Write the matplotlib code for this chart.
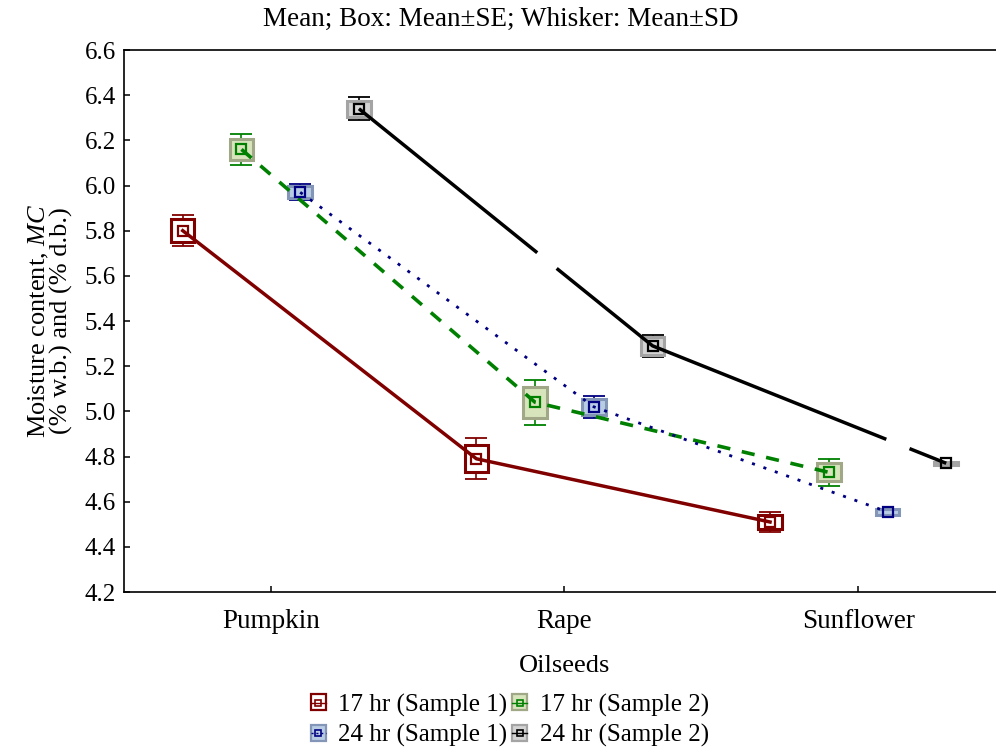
import matplotlib
matplotlib.use('Agg')
import matplotlib.pyplot as plt
import numpy as np
from matplotlib.patches import Rectangle
from matplotlib.lines import Line2D

plt.rcParams['font.family'] = 'serif'
plt.rcParams['font.serif'] = ['Liberation Serif', 'DejaVu Serif']
plt.rcParams['mathtext.fontset'] = 'custom'
plt.rcParams['mathtext.it'] = 'Liberation Serif:italic'
plt.rcParams['mathtext.rm'] = 'Liberation Serif'
plt.rcParams['lines.scale_dashes'] = False

# data
categories = ['Pumpkin', 'Rape', 'Sunflower']
labels = ['17 hr (Sample 1)', '17 hr (Sample 2)', '24 hr (Sample 1)', '24 hr (Sample 2)']

mean_17_s1 = [5.80, 4.79, 4.51]
se_17_s1 = [0.05, 0.06, 0.03]
sd_17_s1 = [0.07, 0.09, 0.045]

mean_17_s2 = [6.16, 5.04, 4.73]
se_17_s2 = [0.045, 0.07, 0.04]
sd_17_s2 = [0.07, 0.10, 0.06]

mean_24_s1 = [5.97, 5.02, 4.555]
se_24_s1 = [0.027, 0.035, 0.012]
sd_24_s1 = [0.035, 0.05, 0.012]

mean_24_s2 = [6.34, 5.29, 4.77]
se_24_s2 = [0.035, 0.04, 0.006]
sd_24_s2 = [0.05, 0.05, 0.006]

offsets = [-0.3, -0.1, 0.1, 0.3]
means = [mean_17_s1, mean_17_s2, mean_24_s1, mean_24_s2]
ses = [se_17_s1, se_17_s2, se_24_s1, se_24_s2]
sds = [sd_17_s1, sd_17_s2, sd_24_s1, sd_24_s2]

line_cols = ['#800000', '#008000', '#000080', '#000000']
box_fill = ['#ffffff', '#d8e4bc', '#b8cce4', '#d4d4d4']
box_edge = ['#800000', '#a0a888', '#8496b8', '#a4a4a4']
styles = [
    dict(linestyle='-', linewidth=2.5),
    dict(linestyle=(0, (9.5, 8.5)), linewidth=2.6),
    dict(linestyle=(0, (2.2, 6.5)), linewidth=2.0),
    dict(linestyle=(105, (270, 18)), linewidth=2.5),
]

fig = plt.figure(figsize=(9.96, 7.51), dpi=100)
ax = fig.add_axes([0.1245, 0.2117, 0.8845, 0.7217])

x = np.arange(len(categories))
handles = []
for i in range(4):
    xi = x + offsets[i]
    m = np.array(means[i])
    se = np.array(ses[i])
    sd = np.array(sds[i])
    # whiskers (mean +- SD)
    ax.errorbar(xi, m, yerr=sd, fmt='none', ecolor=line_cols[i], elinewidth=1.2,
                capsize=8, capthick=1.3, zorder=2)
    # boxes (mean +- SE)
    ax.bar(xi, 2 * se, bottom=m - se, width=0.08, color=box_fill[i],
           edgecolor=box_edge[i], linewidth=2.2, zorder=3)
    ax.plot(xi, m, color=line_cols[i], zorder=4, **styles[i])
    ax.plot(xi, m, linestyle='none', marker='s', markersize=7, mfc='none',
            mec=line_cols[i], mew=1.6, zorder=5)
    patch = Rectangle((0, 0), 1, 1, facecolor=box_fill[i], edgecolor=box_edge[i], linewidth=1.6)
    mk = Line2D([], [], color=line_cols[i], marker='s', markersize=5, mfc='none',
                mew=1.2, linestyle='-' if i != 2 else (0, (1.5, 2)), linewidth=1.0)
    handles.append((patch, mk))

ax.set_xlim(-0.5, 2.5)
ax.set_ylim(4.2, 6.6)
ax.set_xticks(x)
ax.set_xticklabels(categories)
ax.set_yticks(np.arange(4.2, 6.61, 0.2))
ax.set_yticklabels(['%.1f' % v for v in np.arange(4.2, 6.61, 0.2)])
ax.tick_params(direction='in', length=4, width=1.1, labelsize=18)
ax.tick_params(axis='x', pad=12, labelsize=19.5)
ax.tick_params(axis='y', pad=6)
for s in ax.spines.values():
    s.set_linewidth(1.2)

ax.set_xlabel('Oilseeds', fontsize=19, labelpad=15)
ax.set_ylabel('Moisture content, $MC$\n(% w.b.) and (% d.b.)', fontsize=19, labelpad=8,
              linespacing=0.95)

fig.text(0.503, 1 - 19 / 751, 'Mean; Box: Mean\u00b1SE; Whisker: Mean\u00b1SD', fontsize=19.5,
         ha='center', va='center')

order = [0, 2, 1, 3]
fig.legend([handles[k] for k in order], [labels[k] for k in order], ncol=2,
           loc='upper center', bbox_to_anchor=(0.512, 1 - 681 / 751), frameon=False,
           fontsize=18, handlelength=0.6, handleheight=0.6, handletextpad=0.5,
           columnspacing=0.2, labelspacing=0.3, borderpad=0.0)

fig.savefig('out.png', dpi=100)
